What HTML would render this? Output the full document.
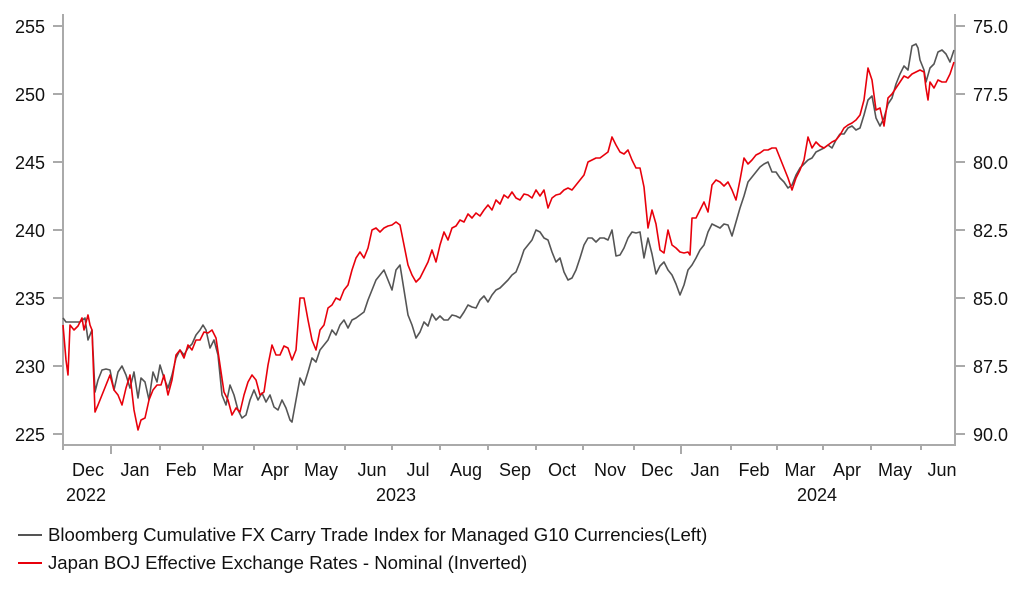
<!DOCTYPE html>
<html><head><meta charset="utf-8"><style>
body{margin:0;background:#fff;}
svg text{font-family:"Liberation Sans",Arial,sans-serif;fill:#111;}
</style></head><body>
<svg width="1022" height="597" viewBox="0 0 1022 597" xmlns="http://www.w3.org/2000/svg">
<g stroke="#aaa" stroke-width="2" fill="none">
<line x1="63" y1="14" x2="63" y2="446"/>
<line x1="955" y1="14" x2="955" y2="446"/>
<line x1="62" y1="445" x2="956" y2="445"/>
<path d="M53 26H63M53 94H63M53 162H63M53 230H63M53 298H63M53 366H63M53 434H63"/>
<path d="M955 26H965M955 94H965M955 162H965M955 230H965M955 298H965M955 366H965M955 434H965"/>
<path d="M63 445v5M111 445v9M160 445v5M203 445v5M254 445v5M297 445v5M345 445v5M392 445v5M440 445v5M488 445v5M536 445v5M583 445v5M634 445v5M681 445v9M731 445v5M777 445v5M823 445v5M871 445v5M921 445v5"/>
</g>
<g font-size="18" text-anchor="end">
<text x="45" y="33">255</text><text x="45" y="101">250</text><text x="45" y="169">245</text><text x="45" y="237">240</text><text x="45" y="305">235</text><text x="45" y="373">230</text><text x="45" y="441">225</text>
</g>
<g font-size="18" text-anchor="start">
<text x="973" y="33">75.0</text><text x="973" y="101">77.5</text><text x="973" y="169">80.0</text><text x="973" y="237">82.5</text><text x="973" y="305">85.0</text><text x="973" y="373">87.5</text><text x="973" y="441">90.0</text>
</g>
<g font-size="18" text-anchor="middle">
<text x="88" y="476">Dec</text><text x="135" y="476">Jan</text><text x="181" y="476">Feb</text><text x="228" y="476">Mar</text><text x="275" y="476">Apr</text><text x="321" y="476">May</text><text x="372" y="476">Jun</text><text x="418" y="476">Jul</text><text x="466" y="476">Aug</text><text x="515" y="476">Sep</text><text x="562" y="476">Oct</text><text x="610" y="476">Nov</text><text x="657" y="476">Dec</text><text x="705" y="476">Jan</text><text x="754" y="476">Feb</text><text x="800" y="476">Mar</text><text x="847" y="476">Apr</text><text x="895" y="476">May</text><text x="942" y="476">Jun</text>
<text x="86" y="501">2022</text><text x="396" y="501">2023</text><text x="817" y="501">2024</text>
</g>
<polyline fill="none" stroke="#555" stroke-width="1.6" stroke-linejoin="round" points="63,318 66,322 80,322 85,318 88,340 92,330 95,392 98,380 102,370 106,369 110,370 114,390 118,372 122,366 126,375 130,388 134,372 138,398 141,378 145,382 149,400 153,372 157,382 160,365 164,378 168,388 172,375 176,358 180,350 184,355 188,348 192,344 196,335 200,330 203,325 206,330 210,348 214,340 218,355 222,395 226,405 230,385 234,395 238,410 242,418 246,415 250,400 254,390 258,400 262,393 266,402 270,395 274,407 278,410 282,400 286,408 290,420 292,422 296,400 300,378 304,385 308,372 312,358 316,362 320,350 324,345 328,340 332,330 336,335 340,325 344,320 348,328 352,320 356,318 360,315 364,312 368,300 372,290 376,280 380,275 384,270 388,280 392,290 396,270 400,265 404,290 408,315 412,325 416,338 420,332 424,322 428,326 432,314 436,320 440,316 444,320 448,320 452,315 456,316 460,318 464,312 468,305 472,307 476,308 480,300 484,296 488,302 492,295 496,290 500,288 504,284 508,280 512,275 516,272 520,262 524,250 528,245 532,240 536,230 540,232 544,238 548,240 552,252 556,262 560,258 564,272 568,280 572,278 576,270 580,258 584,245 588,238 592,238 596,242 600,238 604,238 608,240 612,230 616,256 620,255 624,248 628,238 632,232 636,233 640,232 644,258 648,238 652,254 656,274 660,266 664,262 668,270 672,275 676,284 680,295 684,285 688,270 692,265 696,258 700,250 704,245 708,232 712,224 716,226 720,228 724,224 728,225 732,236 736,222 740,208 744,196 748,182 752,177 756,172 760,167 764,164 768,162 772,172 776,172 780,178 784,182 788,188 792,185 796,175 800,168 804,164 808,160 812,158 816,152 820,150 824,148 828,145 832,148 836,140 840,134 844,134 848,128 852,126 856,130 860,128 864,115 868,100 872,96 876,118 880,126 884,118 888,104 892,98 896,84 900,74 904,66 908,70 912,46 916,44 918,48 920,60 924,70 926,82 930,68 934,64 938,52 942,50 946,54 950,62 954,50"/>
<polyline fill="none" stroke="#e8000b" stroke-width="1.6" stroke-linejoin="round" points="63,325 66,360 68,375 70,325 74,330 78,326 82,318 84,330 88,315 90,325 92,330 95,412 98,405 102,395 106,385 108,380 110,375 114,390 118,395 122,405 126,388 130,375 134,410 138,430 141,420 145,418 149,400 153,390 157,385 161,385 164,375 168,395 172,380 176,355 180,350 184,358 188,345 192,350 196,340 200,340 204,332 208,333 212,330 216,338 220,365 224,392 228,400 232,415 236,408 240,412 244,395 248,382 252,375 256,380 260,395 264,392 268,365 272,345 276,355 280,355 284,346 288,348 292,360 296,350 300,298 304,298 308,320 312,340 316,350 320,330 324,325 328,308 332,305 336,298 340,300 344,290 348,285 352,270 356,258 360,252 364,258 368,248 372,230 376,228 380,232 384,228 388,226 392,225 396,222 400,225 404,245 408,265 412,275 416,282 420,278 424,270 428,262 432,250 436,262 440,245 444,232 448,240 452,228 456,226 460,220 464,222 468,214 472,218 476,213 480,216 484,210 488,205 492,210 496,200 500,204 504,195 508,198 512,192 516,198 520,200 524,194 528,195 532,198 536,190 540,196 544,190 548,208 552,198 556,195 560,194 564,190 568,188 572,190 576,185 580,180 584,175 588,162 592,160 596,158 600,158 604,155 608,152 612,137 616,145 620,152 624,154 628,150 632,160 636,168 640,168 644,187 648,228 652,210 656,224 660,250 664,253 668,230 672,245 676,248 680,252 684,253 688,252 690,255 692,218 696,218 700,210 704,202 708,212 712,185 716,180 720,182 724,186 728,182 732,190 736,200 740,180 744,158 748,164 752,160 756,155 760,153 764,150 768,150 772,148 776,148 780,158 784,168 788,178 792,190 796,178 800,170 804,160 808,137 812,148 816,142 820,146 824,148 828,145 832,142 836,140 840,135 844,128 848,125 852,123 856,120 860,115 864,100 868,68 872,80 876,110 880,108 884,126 888,98 892,94 896,88 900,82 904,76 908,78 912,74 916,72 920,70 924,72 926,88 928,100 930,82 934,88 938,80 942,82 946,82 950,74 954,62"/>
<line x1="18" y1="535" x2="42" y2="535" stroke="#555" stroke-width="2"/>
<line x1="18" y1="563" x2="42" y2="563" stroke="#e8000b" stroke-width="2"/>
<g font-size="18.6">
<text x="48" y="541">Bloomberg Cumulative FX Carry Trade Index for Managed G10 Currencies(Left)</text>
<text x="48" y="569">Japan BOJ Effective Exchange Rates - Nominal (Inverted)</text>
</g>
</svg>
</body></html>
